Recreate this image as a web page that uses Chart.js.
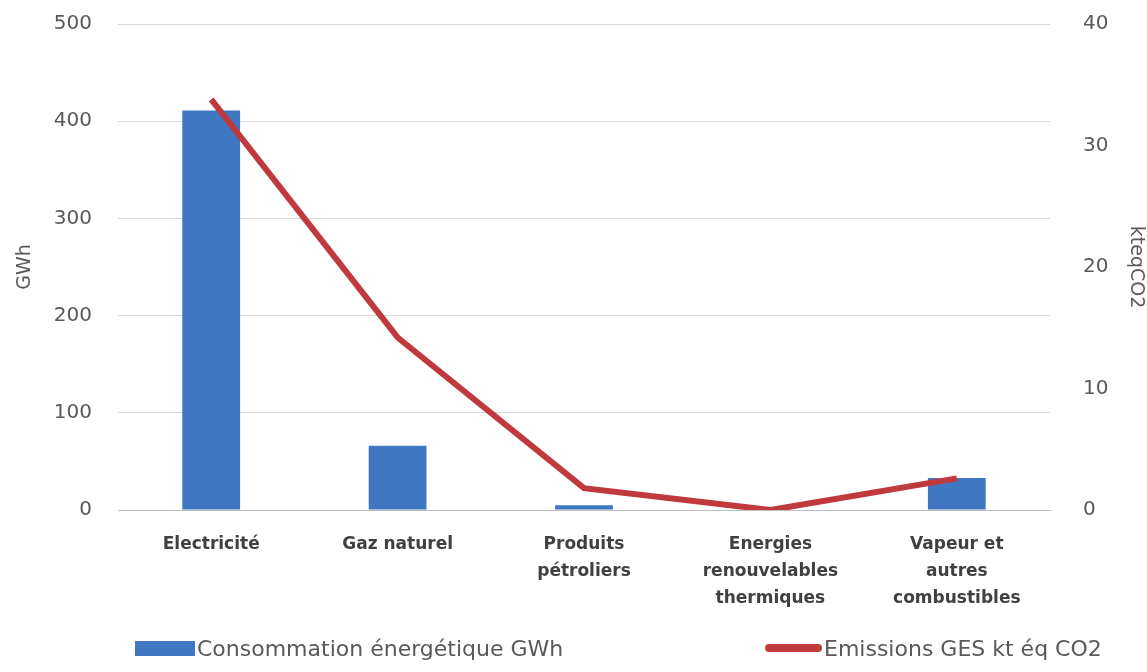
<!DOCTYPE html>
<html lang="fr">
<head>
<meta charset="utf-8">
<script src="https://cdn.jsdelivr.net/npm/chart.js@4/dist/chart.umd.min.js"></script>
<style>
  body { margin: 0; background: #fff; }
  #wrap { position: relative; width: 1147px; height: 672px; }
  #legend { position: absolute; left: 0; top: 631px; width: 1147px; font-family: "DejaVu Sans", sans-serif; font-size: 22px; color: #595959; }
  .item { position: absolute; top: 0; display: flex; align-items: center; height: 34px; white-space: nowrap; }
  .swatch { display: inline-block; margin-right: 2px; }
</style>
</head>
<body>
<div id="wrap">
  <canvas id="myChart" width="1147" height="672"></canvas>
  <div id="legend"></div>
</div>
<script>
// categories and values
const categories = [
  "Electricité",
  "Gaz naturel",
  ["Produits", "pétroliers"],
  ["Energies", "renouvelables", "thermiques"],
  ["Vapeur et", "autres", "combustibles"],
];
const consommationGWh = [411, 66, 5, 0, 33];
const emissionsKtCO2 = [33.8, 14.2, 1.8, 0, 2.6];
const gwhTicks = [0, 100, 200, 300, 400, 500];
const co2Ticks = [0, 10, 20, 30, 40];

const labelBar = "Consommation énergétique GWh";
const labelLine = "Emissions GES kt éq CO2";
const blue = "#3f77c3";
const red = "#c0393c";

const tickFont = { family: "DejaVu Sans", size: 20 };

// tick padding would otherwise push the plot area down
function fixWidth(w) {
  return (s) => {
    s.width = w;
    s.paddingTop = 0;
    s.paddingBottom = 0;
  };
}

var ctx = document.getElementById("myChart").getContext("2d");
var myChart = new Chart(ctx, {
  type: "bar",
  data: {
    labels: categories,
    datasets: [
      {
        type: "line",
        label: labelLine,
        data: emissionsKtCO2,
        yAxisID: "y2",
        borderColor: red,
        backgroundColor: red,
        borderWidth: 6,
        pointRadius: 0,
        tension: 0,
        order: 1,
      },
      {
        label: labelBar,
        data: consommationGWh,
        yAxisID: "y",
        backgroundColor: blue,
        categoryPercentage: 1,
        barPercentage: 0.31,
        order: 2,
      },
    ],
  },
  options: {
    responsive: false,
    animation: false,
    layout: { padding: { top: 24, left: 0, right: 0, bottom: 0 } },
    plugins: {
      legend: { display: false },
      tooltip: { enabled: false },
    },
    scales: {
      x: {
        grid: { display: false },
        border: { color: "#bfbfbf" },
        ticks: {
          color: "#404040",
          font: { family: "DejaVu Sans", size: 17, weight: "bold", lineHeight: 1.6 },
          padding: 13,
          maxRotation: 0,
        },
        afterFit: (s) => { s.height = 162; },
      },
      y: {
        position: "left",
        min: 0,
        max: 500,
        afterBuildTicks: (s) => { s.ticks = gwhTicks.map((v) => ({ value: v })); },
        grid: { color: "#d9d9d9", drawTicks: false },
        border: { display: false },
        ticks: { color: "#595959", font: tickFont, padding: 26 },
        title: { display: true, text: "GWh", color: "#595959", font: { family: "DejaVu Sans", size: 19 }, padding: { top: 14, bottom: 0 } },
        afterFit: fixWidth(118),
      },
      y2: {
        position: "right",
        min: 0,
        max: 40,
        afterBuildTicks: (s) => { s.ticks = co2Ticks.map((v) => ({ value: v })); },
        grid: { display: false },
        border: { display: false },
        ticks: { color: "#595959", font: tickFont, padding: 25 },
        title: { display: true, text: "kteqCO2", color: "#595959", font: { family: "DejaVu Sans", size: 19 }, padding: { top: 0, bottom: 4 } },
        afterFit: fixWidth(97),
      },
    },
  },
});

// html legend, spaced like the original
var legend = document.getElementById("legend");
legend.innerHTML =
  '<div class="item" style="left:135px"><span class="swatch" style="width:60px;height:15px;background:' + blue + '"></span>' + labelBar + '</div>' +
  '<div class="item" style="left:765px"><span class="swatch" style="width:57px;height:8px;border-radius:4px;background:' + red + '"></span>' + labelLine + '</div>';
</script>
</body>
</html>
